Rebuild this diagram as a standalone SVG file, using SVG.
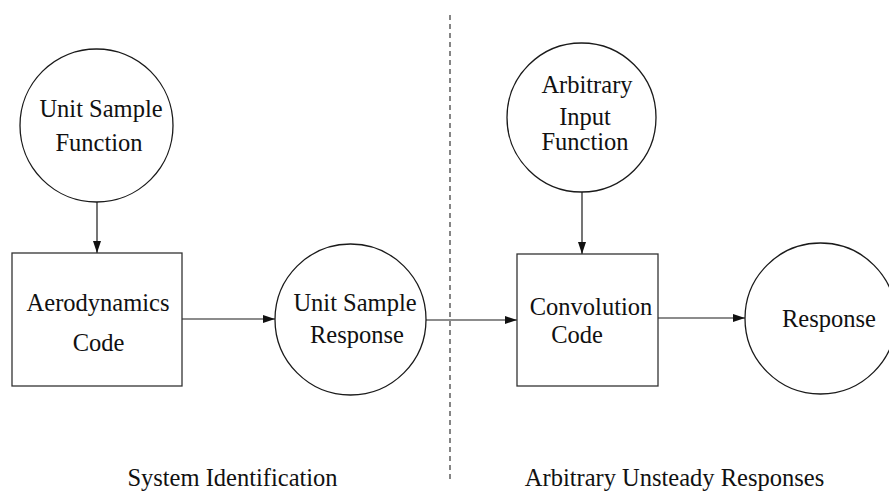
<svg xmlns="http://www.w3.org/2000/svg" width="889" height="491" viewBox="0 0 889 491">
  <style>
    .node { fill: none; stroke: #1a1a1a; stroke-width: 1.3; }
    .box { fill: none; stroke: #333; stroke-width: 1.3; }
    .label { font-family: "Liberation Serif", "DejaVu Serif", serif; font-size: 24.5px; fill: #111; text-anchor: middle; }
    .edge { stroke: #1a1a1a; stroke-width: 1.2; fill: none; marker-end: url(#head); }
    .divider { stroke: #222; stroke-width: 1.1; stroke-dasharray: 5 4; }
  </style>
  <defs>
    <marker id="head" viewBox="0 0 12 8" refX="12" refY="4" markerWidth="12" markerHeight="8" markerUnits="userSpaceOnUse" orient="auto">
      <path d="M0,0 L12,4 L0,8 Z" fill="#111"/>
    </marker>
  </defs>

  <rect width="889" height="491" fill="#fff"/>

  <!-- separator between the two stages -->
  <line class="divider" x1="450" y1="15" x2="450" y2="482"/>

  <g id="connectors">
    <line class="edge" x1="97" y1="202" x2="97" y2="253"/>
    <line class="edge" x1="182" y1="319" x2="275" y2="319"/>
    <line class="edge" x1="426" y1="320" x2="517" y2="320"/>
    <line class="edge" x1="582" y1="192" x2="582" y2="254"/>
    <line class="edge" x1="658" y1="318" x2="745" y2="318"/>
  </g>

  <g font-family="Liberation Serif, DejaVu Serif, serif">
    <g id="unit-sample-function">
      <circle class="node" cx="96.5" cy="125.5" r="76.5"/>
      <text class="label" x="101" y="117">Unit Sample</text>
      <text class="label" x="99" y="151">Function</text>
    </g>

    <g id="aerodynamics-code">
      <rect class="box" x="12" y="253" width="170" height="133"/>
      <text class="label" x="98" y="311">Aerodynamics</text>
      <text class="label" x="98.5" y="351">Code</text>
    </g>

    <g id="unit-sample-response">
      <circle class="node" cx="350.5" cy="319.5" r="75.5"/>
      <text class="label" x="355" y="311">Unit Sample</text>
      <text class="label" x="357" y="343">Response</text>
    </g>

    <g id="arbitrary-input-function">
      <circle class="node" cx="581.5" cy="117.5" r="74.5"/>
      <text class="label" x="587" y="93">Arbitrary</text>
      <text class="label" x="585" y="125">Input</text>
      <text class="label" x="585" y="150">Function</text>
    </g>

    <g id="convolution-code">
      <rect class="box" x="517" y="254" width="141" height="132"/>
      <text class="label" x="591" y="315">Convolution</text>
      <text class="label" x="577" y="343">Code</text>
    </g>

    <g id="response">
      <circle class="node" cx="820.5" cy="318.5" r="75.5"/>
      <text class="label" x="829" y="327">Response</text>
    </g>

    <g id="section-titles">
      <text class="label" x="232.5" y="486">System Identification</text>
      <text class="label" x="674.5" y="486">Arbitrary Unsteady Responses</text>
    </g>
  </g>
</svg>
